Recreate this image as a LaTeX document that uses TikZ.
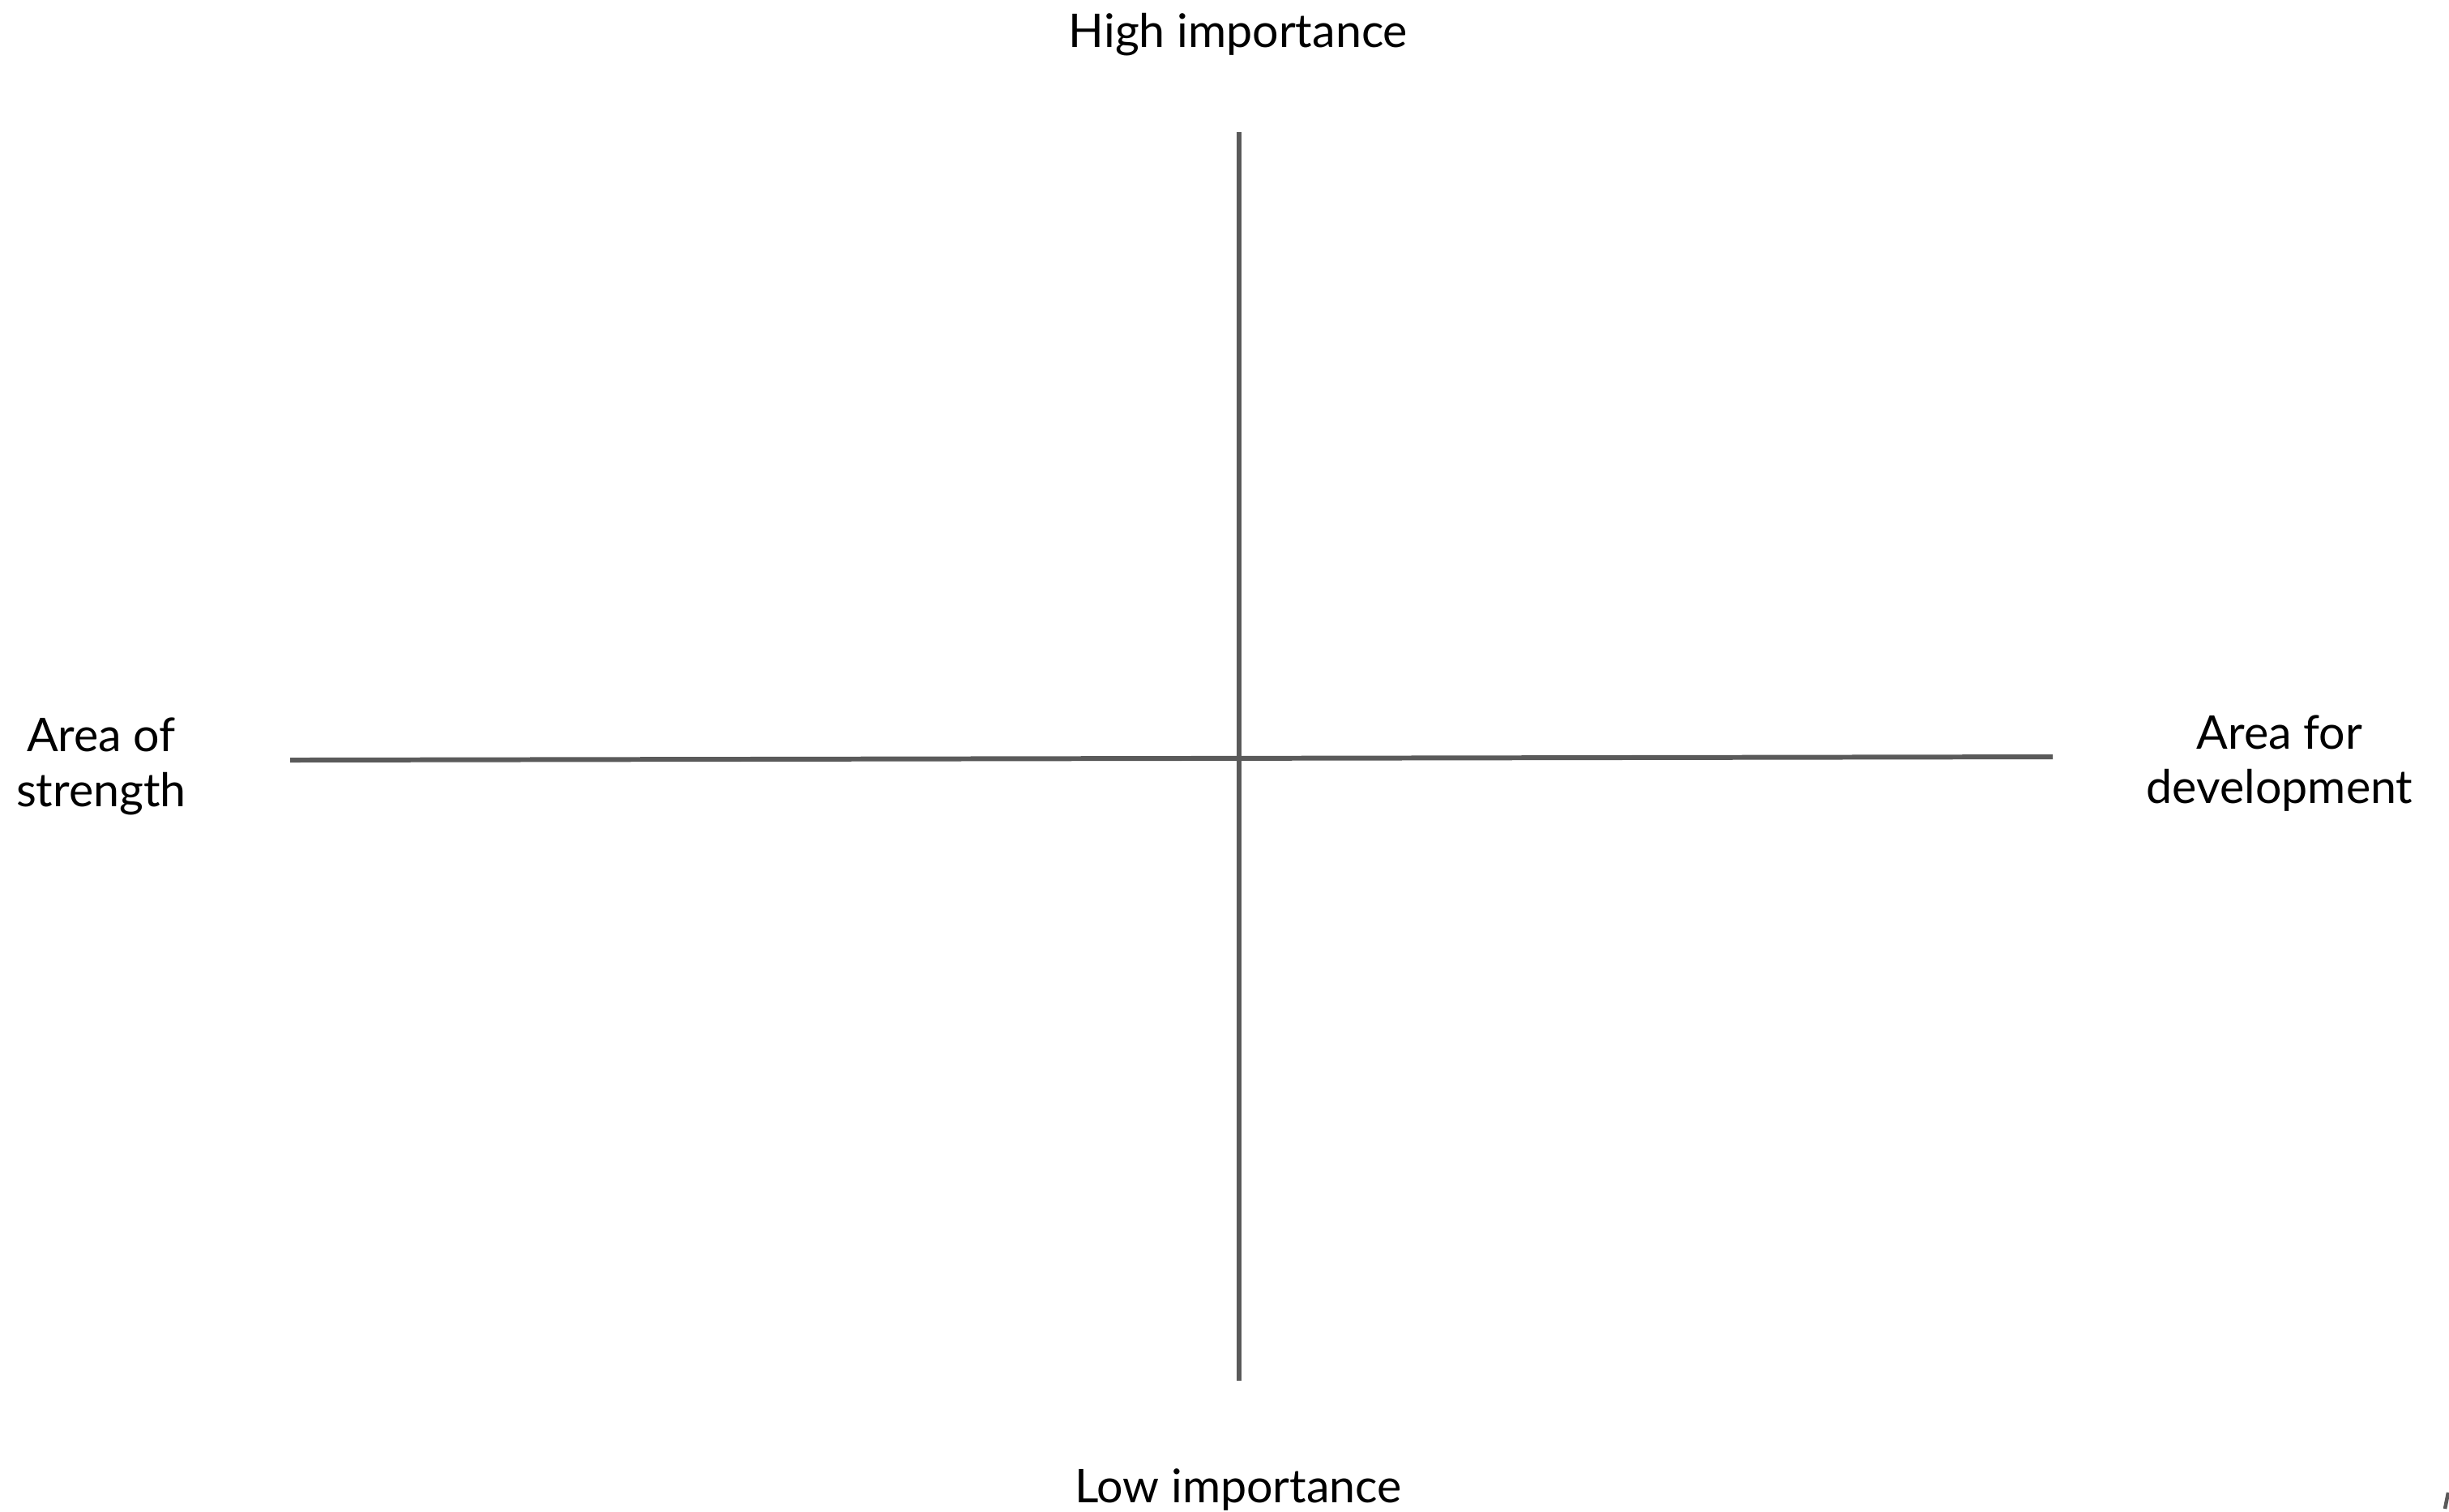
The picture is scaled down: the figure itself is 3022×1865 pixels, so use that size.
\documentclass[tikz,border=0pt]{standalone}
\usepackage{fontspec}
\setmainfont{Lato}
\begin{document}
\begin{tikzpicture}[x=0.01cm,y=-0.01cm,
  axis/.style={draw=axisgray,line width=1.7pt},
  lbl/.style={font=\fontsize{16.3}{19.2}\selectfont,align=center,inner sep=0pt,text=black}]
\definecolor{axisgray}{HTML}{5A5A5A}
\useasboundingbox[fill=white] (0,0) rectangle (3022,1865);
\coordinate (vtop) at (1529,163);
\coordinate (vbot) at (1529,1704);
\coordinate (hleft) at (358,938);
\coordinate (hright) at (2533,934);
\draw[axis] (vtop) -- (vbot);
\draw[axis] (hleft) -- (hright);
\node[lbl] (high) at (1528,43) {High importance};
\node[lbl] (low) at (1528,1838) {Low importance};
\node[lbl] (left) at (125,946) {Area of\\strength};
\node[lbl] (right) at (2813,942) {Area for\\development};
\coordinate (m1) at (3017,1862);
\coordinate (m2) at (3021,1842);
\draw[axisgray,line width=1.3pt] (m1) -- (m2);
\end{tikzpicture}
\end{document}
